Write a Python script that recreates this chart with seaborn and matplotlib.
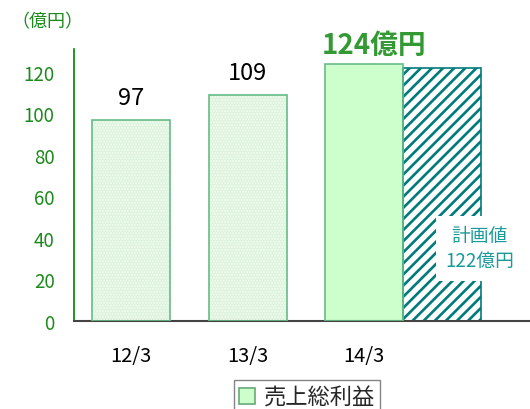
import matplotlib
matplotlib.use("Agg")
import matplotlib.pyplot as plt
from matplotlib.patches import Patch, Rectangle
import seaborn as sns
import pandas as pd

# Gross profit (億円) by fiscal year end, plus the plan figure for 14/3
periods = ["12/3", "13/3", "14/3"]
gross_profit = [97, 109, 124]
plan_label = "計画値\n122億円"
plan_value = 122
value_labels = ["97", "109", "124億円"]
unit_label = "（億円）"
legend_label = "売上総利益"
y_ticks = [0, 20, 40, 60, 80, 100, 120]

sns.set_theme(style="white")
plt.rcParams["font.family"] = ["Noto Sans CJK JP", "DejaVu Sans"]
plt.rcParams["hatch.linewidth"] = 1.9

GREEN = "#1b8a1b"
TEAL = "#1a9a9a"
HATCH = "#007a7a"

fig = plt.figure(figsize=(5.30, 4.10), dpi=100)
ax = fig.add_axes([74 / 530, 1 - 322 / 410, 1 - 74 / 530, (322 - 50) / 410])

df = pd.DataFrame({"period": periods, "profit": gross_profit})
bar_w = 0.67
sns.barplot(data=df, x="period", y="profit", hue="period",
            palette=["#f3fcf3", "#f3fcf3", "#ccffcc"], legend=False,
            width=bar_w, ax=ax, saturation=1, linewidth=0)

for i, p in enumerate(ax.patches[:3]):
    if i < 2:
        p.set_hatch("......")
        p.set_edgecolor("#dcf3dc")
        p.set_linewidth(0)
    ax.add_patch(Rectangle((p.get_x(), 0), p.get_width(), p.get_height(),
                           fill=False, edgecolor="#66bb88", linewidth=1.2,
                           zorder=3))

# plan bar sits directly to the right of the 14/3 bar
ax.bar(2 + bar_w, plan_value, width=bar_w, facecolor="white",
       edgecolor=HATCH, hatch="///", linewidth=1.2, zorder=2)

ax.set_xlim(-0.49, 3.425)
ax.set_ylim(0, 131)
ax.set_yticks(y_ticks)
ax.set_xlabel("")
ax.set_ylabel("")

ax.tick_params(axis="y", length=0, pad=14, labelsize=13.5, labelcolor=GREEN)
ax.tick_params(axis="x", length=0, pad=17, labelsize=14.5, labelcolor="black")

for s in ["top", "right"]:
    ax.spines[s].set_visible(False)
ax.spines["left"].set_color("#008000")
ax.spines["left"].set_linewidth(1.2)
ax.spines["bottom"].set_color("#444444")
ax.spines["bottom"].set_linewidth(1.5)

# value labels above the bars
ax.text(0, gross_profit[0] + 5, value_labels[0], ha="center", va="bottom",
        fontsize=17, color="black")
ax.text(1, gross_profit[1] + 5, value_labels[1], ha="center", va="bottom",
        fontsize=17, color="black")
ax.text(2 + 0.09, gross_profit[2] + 2, value_labels[2], ha="center",
        va="bottom", fontsize=20, fontweight="bold", color="#339933")

# plan annotation on the hatched bar
ax.text(2 + bar_w + 0.32, 35, plan_label, ha="center", va="center",
        fontsize=13.5, color=TEAL, linespacing=1.25,
        bbox=dict(boxstyle="square,pad=0.5", facecolor="white",
                  edgecolor="none"))

fig.text(47 / 530, 1 - 22 / 410, unit_label, ha="center", va="center",
         fontsize=13, color=GREEN)

handle = Patch(facecolor="#ccffcc", edgecolor="#66aa77", linewidth=1.2)
fig.legend([handle], [legend_label], loc="upper center",
           bbox_to_anchor=(307 / 530, 1 - 381 / 410), frameon=True,
           fancybox=False, edgecolor="#666666", fontsize=16,
           handlelength=0.7, handleheight=0.7, handletextpad=0.4,
           borderpad=0.25, borderaxespad=0)

fig.savefig("out.png", dpi=100)
